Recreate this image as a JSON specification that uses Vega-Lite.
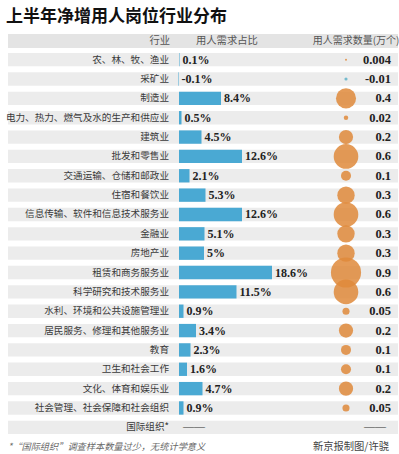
{
  "$schema": "https://vega.github.io/schema/vega-lite/v6.json",
  "padding": {"left": 5, "right": 4, "top": 8, "bottom": 0},
  "background": "white",
  "title": {"text": "上半年净增用人岗位行业分布", "anchor": "start", "fontSize": 17, "font": "Noto Sans CJK SC", "fontWeight": "bold", "color": "#111111", "offset": 8},
  "config": {"view": {"stroke": null}, "concat": {"spacing": 2}},
  "spacing": 2,
  "data": {"values": [
    {"industry": "农、林、牧、渔业", "share": 0.1, "demand": 0.004, "shareLabel": "0.1%", "demandLabel": "0.004"},
    {"industry": "采矿业", "share": -0.1, "demand": -0.01, "shareLabel": "-0.1%", "demandLabel": "-0.01"},
    {"industry": "制造业", "share": 8.4, "demand": 0.4, "shareLabel": "8.4%", "demandLabel": "0.4"},
    {"industry": "电力、热力、燃气及水的生产和供应业", "share": 0.5, "demand": 0.02, "shareLabel": "0.5%", "demandLabel": "0.02"},
    {"industry": "建筑业", "share": 4.5, "demand": 0.2, "shareLabel": "4.5%", "demandLabel": "0.2"},
    {"industry": "批发和零售业", "share": 12.6, "demand": 0.6, "shareLabel": "12.6%", "demandLabel": "0.6"},
    {"industry": "交通运输、仓储和邮政业", "share": 2.1, "demand": 0.1, "shareLabel": "2.1%", "demandLabel": "0.1"},
    {"industry": "住宿和餐饮业", "share": 5.3, "demand": 0.3, "shareLabel": "5.3%", "demandLabel": "0.3"},
    {"industry": "信息传输、软件和信息技术服务业", "share": 12.6, "demand": 0.6, "shareLabel": "12.6%", "demandLabel": "0.6"},
    {"industry": "金融业", "share": 5.1, "demand": 0.3, "shareLabel": "5.1%", "demandLabel": "0.3"},
    {"industry": "房地产业", "share": 5, "demand": 0.3, "shareLabel": "5%", "demandLabel": "0.3"},
    {"industry": "租赁和商务服务业", "share": 18.6, "demand": 0.9, "shareLabel": "18.6%", "demandLabel": "0.9"},
    {"industry": "科学研究和技术服务业", "share": 11.5, "demand": 0.6, "shareLabel": "11.5%", "demandLabel": "0.6"},
    {"industry": "水利、环境和公共设施管理业", "share": 0.9, "demand": 0.05, "shareLabel": "0.9%", "demandLabel": "0.05"},
    {"industry": "居民服务、修理和其他服务业", "share": 3.4, "demand": 0.2, "shareLabel": "3.4%", "demandLabel": "0.2"},
    {"industry": "教育", "share": 2.3, "demand": 0.1, "shareLabel": "2.3%", "demandLabel": "0.1"},
    {"industry": "卫生和社会工作", "share": 1.6, "demand": 0.1, "shareLabel": "1.6%", "demandLabel": "0.1"},
    {"industry": "文化、体育和娱乐业", "share": 4.7, "demand": 0.2, "shareLabel": "4.7%", "demandLabel": "0.2"},
    {"industry": "社会管理、社会保障和社会组织", "share": 0.9, "demand": 0.05, "shareLabel": "0.9%", "demandLabel": "0.05"},
    {"industry": "国际组织*", "share": null, "demand": null, "shareLabel": "", "demandLabel": ""}
  ]},
  "vconcat": [
    {
      "width": 390,
      "height": 14,
      "view": {"fill": "#e4e4e4", "stroke": null},
      "data": {"values": [{}]},
      "layer": [
        {"mark": {"type": "text", "text": "行业", "align": "right", "font": "Noto Sans CJK SC", "fontSize": 10.3, "color": "#555555"},
         "encoding": {"x": {"datum": -1.8, "type": "quantitative", "scale": {"domain": [-34.2, 43.8], "nice": false}, "axis": null}}},
        {"mark": {"type": "text", "text": "用人需求占比", "align": "left", "font": "Noto Sans CJK SC", "fontSize": 10.3, "color": "#555555"},
         "encoding": {"x": {"datum": 3.4, "type": "quantitative", "scale": {"domain": [-34.2, 43.8], "nice": false}, "axis": null}}},
        {"mark": {"type": "text", "text": "用人需求数量(万个)", "align": "right", "font": "Noto Sans CJK SC", "fontSize": 10, "color": "#555555"},
         "encoding": {"x": {"datum": 44.1, "type": "quantitative", "scale": {"domain": [-34.2, 43.8], "nice": false}, "axis": null}}}
      ]
    },
    {
      "width": 390,
      "height": 387,
      "encoding": {
        "y": {"field": "industry", "type": "nominal", "sort": null, "axis": null, "scale": {"paddingInner": 0.31, "paddingOuter": 0.155}}
      },
      "layer": [
        {"mark": {"type": "bar", "color": "#ececec"},
         "encoding": {"x": {"datum": -34.2, "type": "quantitative", "scale": {"domain": [-34.2, 43.8], "nice": false}, "axis": null}, "x2": {"datum": 43.8}}},
        {"mark": {"type": "text", "align": "right", "font": "Noto Sans CJK SC", "fontSize": 9.6, "color": "#3a3a3a"},
         "encoding": {"x": {"datum": -2, "type": "quantitative", "scale": {"domain": [-34.2, 43.8], "nice": false}, "axis": null}, "text": {"field": "industry"}}},
        {"transform": [{"filter": "datum.share != null"}],
         "mark": {"type": "bar", "color": "#4aa9d3"},
         "encoding": {"x": {"field": "share", "type": "quantitative", "scale": {"domain": [-34.2, 43.8], "nice": false}, "axis": null}, "x2": {"datum": 0}}},
        {"transform": [{"filter": "datum.share != null"}],
         "mark": {"type": "text", "align": "left", "dx": 3, "font": "Liberation Serif", "fontWeight": "bold", "fontSize": 12, "color": "#222222"},
         "encoding": {"x": {"field": "share", "type": "quantitative", "scale": {"domain": [-34.2, 43.8], "nice": false}, "axis": null}, "text": {"field": "shareLabel"}}},
        {"transform": [{"filter": "datum.share == null"}],
         "mark": {"type": "text", "text": "——", "align": "left", "font": "Liberation Serif", "fontSize": 11, "color": "#333333"},
         "encoding": {"x": {"datum": 0.8, "type": "quantitative", "scale": {"domain": [-34.2, 43.8], "nice": false}, "axis": null}}},
        {"transform": [{"filter": "datum.demand == null"}],
         "mark": {"type": "text", "text": "——", "align": "right", "font": "Liberation Serif", "fontSize": 11, "color": "#333333"},
         "encoding": {"x": {"datum": 41.4, "type": "quantitative", "scale": {"domain": [-34.2, 43.8], "nice": false}, "axis": null}}},
        {"transform": [{"filter": "datum.demand != null"}, {"calculate": "abs(datum.demand)", "as": "absDemand"}],
         "mark": {"type": "circle", "opacity": 0.85},
         "encoding": {
           "x": {"datum": 33.4, "type": "quantitative", "scale": {"domain": [-34.2, 43.8], "nice": false}, "axis": null},
           "size": {"field": "absDemand", "type": "quantitative", "scale": {"domain": [0, 0.9], "range": [0, 908]}, "legend": null},
           "color": {"condition": {"test": "datum.demand < 0", "value": "#5fb3c9"}, "value": "#df8a3b"}
         }},
        {"transform": [{"filter": "datum.demand != null"}],
         "mark": {"type": "text", "align": "right", "font": "Liberation Serif", "fontWeight": "bold", "fontSize": 12.5, "color": "#222222"},
         "encoding": {"x": {"datum": 42.4, "type": "quantitative", "scale": {"domain": [-34.2, 43.8], "nice": false}, "axis": null}, "text": {"field": "demandLabel"}}}
      ]
    },
    {
      "width": 390,
      "height": 15,
      "data": {"values": [{}]},
      "layer": [
        {"mark": {"type": "text", "text": "*“国际组织”调查样本数量过少，无统计学意义", "align": "left", "font": "Noto Sans CJK SC", "fontStyle": "italic", "fontSize": 9.2, "color": "#666666"},
         "encoding": {"x": {"datum": -34.2, "type": "quantitative", "scale": {"domain": [-34.2, 43.8], "nice": false}, "axis": null}}},
        {"mark": {"type": "text", "text": "新京报制图/许骁", "align": "right", "font": "Noto Sans CJK SC", "fontSize": 10.3, "color": "#444444"},
         "encoding": {"x": {"datum": 42, "type": "quantitative", "scale": {"domain": [-34.2, 43.8], "nice": false}, "axis": null}}}
      ]
    }
  ]
}
